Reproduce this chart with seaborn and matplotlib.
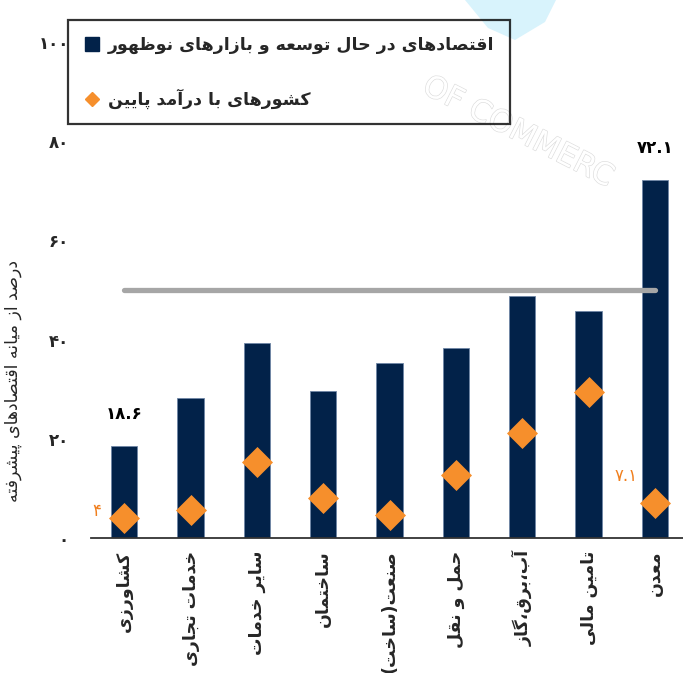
import numpy as np
import matplotlib
matplotlib.use("Agg")
import matplotlib.pyplot as plt
import matplotlib.patheffects as pe
import seaborn as sns
from matplotlib.lines import Line2D
from matplotlib.patches import Polygon

# --- data -------------------------------------------------------------
sectors = ["کشاورزی", "خدمات تجاری", "سایر خدمات", "ساختمان", "صنعت(ساخت)",
           "حمل و نقل", "آب،برق،گاز", "تامین مالی", "معدن"]
emerging = [18.6, 28.2, 39.4, 29.6, 35.3, 38.4, 48.8, 45.8, 72.1]
low_income = [4.0, 5.7, 15.3, 8.0, 4.6, 12.7, 21.2, 29.4, 7.1]
ref_level = 50
y_ticks = [0, 20, 40, 60, 80, 100]

legend_labels = ["اقتصادهای در حال توسعه و بازارهای نوظهور", "کشورهای با درآمد پایین"]
y_title = "درصد از میانه اقتصادهای پیشرفته"

NAVY = "#022249"
ORANGE = "#F68F2C"
GRAY = "#A6A6A6"

# --- minimal arabic/persian shaping (matplotlib has no text shaping) --
FORMS = {
    'آ': (0xFE81, 2), 'ا': (0xFE8D, 2), 'ب': (0xFE8F, 4), 'ت': (0xFE95, 4),
    'ث': (0xFE99, 4), 'ج': (0xFE9D, 4), 'ح': (0xFEA1, 4), 'خ': (0xFEA5, 4),
    'د': (0xFEA9, 2), 'ذ': (0xFEAB, 2), 'ر': (0xFEAD, 2), 'ز': (0xFEAF, 2),
    'س': (0xFEB1, 4), 'ش': (0xFEB5, 4), 'ص': (0xFEB9, 4), 'ض': (0xFEBD, 4),
    'ط': (0xFEC1, 4), 'ظ': (0xFEC5, 4), 'ع': (0xFEC9, 4), 'غ': (0xFECD, 4),
    'ف': (0xFED1, 4), 'ق': (0xFED5, 4), 'ل': (0xFEDD, 4), 'م': (0xFEE1, 4),
    'ن': (0xFEE5, 4), 'ه': (0xFEE9, 4), 'و': (0xFEED, 2), 'پ': (0xFB56, 4),
    'چ': (0xFB7A, 4), 'ژ': (0xFB8A, 2), 'ک': (0xFB8E, 4), 'گ': (0xFB92, 4),
    'ی': (0xFBFC, 4), 'ي': (0xFEF1, 4), 'ك': (0xFED9, 4), 'ة': (0xFE93, 2),
    'ئ': (0xFE89, 4),
}
MIRROR = {'(': ')', ')': '('}


def fa(text):
    out = []
    for i, ch in enumerate(text):
        if ch not in FORMS:
            out.append(MIRROR.get(ch, ch))
            continue
        base, n = FORMS[ch]
        prev = text[i - 1] if i > 0 else ''
        nxt = text[i + 1] if i + 1 < len(text) else ''
        jp = prev in FORMS and FORMS[prev][1] == 4
        jn = n == 4 and nxt in FORMS
        k = 3 if (jp and jn) else 1 if jp else 2 if jn else 0
        out.append(chr(base + k))
    return ''.join(reversed(out))


def fa_num(v):
    return str(v).translate(str.maketrans("0123456789", "۰۱۲۳۴۵۶۷۸۹"))


# --- plot -------------------------------------------------------------
sns.set_style("white")
plt.rcParams['font.family'] = ['DejaVu Sans']

fig = plt.figure(figsize=(6.83, 6.73), dpi=100)

# faint watermark in the background of the source image
fig.patches.append(Polygon([(465 / 683, 1), (556 / 683, 1), (545 / 683, 1 - 22 / 673),
                            (515 / 683, 1 - 40 / 673), (488 / 683, 1 - 28 / 673)],
                           closed=True, transform=fig.transFigure,
                           facecolor="#D8F3FC", edgecolor="none", zorder=0))
fig.text(518 / 683, 1 - 132 / 673, "OF COMMERC", rotation=-27, fontsize=22,
         color="white", ha="center", va="center", zorder=0,
         path_effects=[pe.withStroke(linewidth=0.9, foreground="#DCDCDC")])

ax = fig.add_axes([91 / 683, 135 / 673, 597 / 683, 496 / 673])
ax.patch.set_alpha(0)

labels = [fa(s) for s in sectors]
pos = np.arange(len(sectors))

sns.barplot(x=labels, y=emerging, color=NAVY, width=0.40, saturation=1,
            edgecolor="#6F86A6", linewidth=0.6, ax=ax, zorder=1)
sns.lineplot(x=pos, y=[ref_level] * len(pos), color=GRAY, linewidth=3.8,
             solid_capstyle="round", ax=ax, zorder=2)
sns.scatterplot(x=pos, y=low_income, marker="D", s=250, color=ORANGE,
                linewidth=0, ax=ax, zorder=3)

ax.set_xlim(-0.5, len(sectors) - 0.5)
ax.set_ylim(0, 100)
ax.set_yticks(y_ticks)
ax.set_yticklabels([fa_num(t) for t in y_ticks], fontsize=12, fontweight="bold")
ax.set_xticks(pos)
ax.set_xticklabels(labels, rotation=90, fontsize=12.5, fontweight="bold")
ax.tick_params(axis="y", length=0, pad=16)
ax.tick_params(axis="x", length=0, pad=9)
ax.set_xlabel("")
ax.set_ylabel(fa(y_title), fontsize=12.5)
ax.yaxis.set_label_coords(-0.115, 0.316)

for s in ["top", "right", "left"]:
    ax.spines[s].set_visible(False)
ax.spines["bottom"].set_color("#333333")
ax.spines["bottom"].set_linewidth(1.3)

# value labels
for i in [0, len(sectors) - 1]:
    ax.annotate(fa_num(emerging[i]), (pos[i], emerging[i]), xytext=(0, 23),
                textcoords="offset points", ha="center", va="center",
                fontsize=12, fontweight="bold", color="black")
ax.annotate(fa_num(int(low_income[0])), (pos[0], low_income[0]), xytext=(-20, 5),
            textcoords="offset points", ha="center", va="center",
            fontsize=12, color="#F07F1E")
ax.annotate(fa_num(low_income[-1]), (pos[-1], low_income[-1]), xytext=(-21, 19),
            textcoords="offset points", ha="center", va="center",
            fontsize=12, color="#F07F1E")

handles = [
    Line2D([], [], marker="s", linestyle="none", color=NAVY, markersize=10),
    Line2D([], [], marker="D", linestyle="none", color=ORANGE, markersize=7.5),
]
leg = fig.legend(handles, [fa(t) for t in legend_labels],
                 loc="upper left", mode="expand",
                 bbox_to_anchor=(68 / 683, 1 - 135 / 673, 442 / 683, 115 / 673),
                 borderaxespad=0, prop={"weight": "bold", "size": 12.5},
                 frameon=True, fancybox=False, facecolor="none",
                 edgecolor="black", labelspacing=2.0, handletextpad=0.4,
                 borderpad=0.9, handlelength=1.0)
leg.get_frame().set_linewidth(1.6)

fig.savefig("out.png", dpi=100)
